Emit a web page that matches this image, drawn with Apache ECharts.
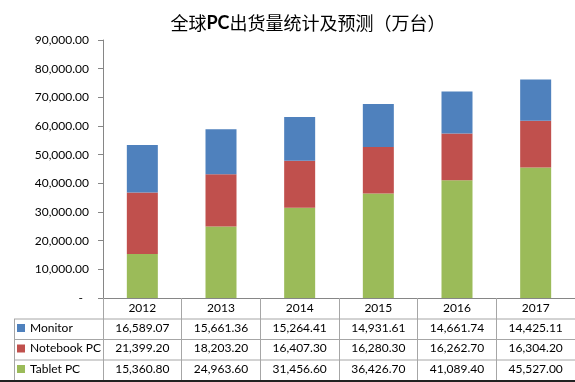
<!DOCTYPE html>
<html>
<head>
<meta charset="utf-8">
<script src="https://cdn.jsdelivr.net/npm/echarts@6/dist/echarts.min.js"></script>
<style>
html,body{margin:0;padding:0;background:#fff;}
#chart{width:575px;height:382px;}
</style>
</head>
<body>
<div id="chart"></div>
<script>
var years = ['2012', '2013', '2014', '2015', '2016', '2017'];
var monitor = [16589.07, 15661.36, 15264.41, 14931.61, 14661.74, 14425.11];
var notebook = [21399.20, 18203.20, 16407.30, 16280.30, 16262.70, 16304.20];
var tablet = [15360.80, 24963.60, 31456.60, 36426.70, 41089.40, 45527.00];
var seriesNames = ['Monitor', 'Notebook PC', 'Tablet PC'];
var yTicks = { min: 0, max: 90000, interval: 10000 };

var colors = { 'Monitor': '#4F81BD', 'Notebook PC': '#C0504D', 'Tablet PC': '#9BBB59' };
var FONT = 'Lato, "Liberation Sans", sans-serif';
function fmt(v) {
  if (v === 0) return '-  ';
  return Number(v).toLocaleString('en-US', { minimumFractionDigits: 2, maximumFractionDigits: 2 });
}

var gridLeft = 103, gridTop = 40, gridBottomY = 298, W = 575, H = 382;
var rowLines = [319, 339.5, 360];
var lineColor = '#a6a6a6';

function rowAxis(values, offset) {
  return {
    type: 'category', gridIndex: 0, position: 'bottom', offset: offset,
    data: values.map(fmt),
    axisLine: { show: false }, axisTick: { show: false },
    axisLabel: { interval: 0, margin: 3, color: '#000', fontFamily: FONT, fontSize: 12 }
  };
}

var legends = seriesNames.map(function (n, i) {
  return {
    data: [n], orient: 'horizontal', left: 14, top: rowLines[i] + 3,
    icon: 'rect', itemWidth: 8, itemHeight: 8, itemGap: 0, padding: [0, 0, 0, 3],
    selectedMode: false,
    textStyle: { color: '#000', fontFamily: FONT, fontSize: 12, padding: [2, 0, 0, 0] }
  };
});

var graphics = [];
rowLines.forEach(function (y) {
  graphics.push({ type: 'line', shape: { x1: 14, y1: y, x2: W, y2: y }, style: { stroke: lineColor, lineWidth: 1 }, silent: true });
});
graphics.push({ type: 'line', shape: { x1: 14.5, y1: rowLines[0], x2: 14.5, y2: 380 }, style: { stroke: lineColor, lineWidth: 1 }, silent: true });
graphics.push({ type: 'line', shape: { x1: 0, y1: 381, x2: W, y2: 381 }, style: { stroke: '#222', lineWidth: 2 }, silent: true });

var chart = echarts.init(document.getElementById('chart'), null, { renderer: 'canvas' });
chart.setOption({
  animation: false,
  backgroundColor: '#fff',
  title: {
    text: '全球{b|PC}出货量统计及预测（万台）',
    left: 303, textAlign: 'center', top: 9,
    textStyle: {
      fontFamily: '"Noto Sans CJK SC", sans-serif', fontSize: 18, fontWeight: 'normal', color: '#000',
      rich: { b: { fontFamily: 'Lato, "Liberation Sans", sans-serif', fontWeight: 'bold', fontSize: 18, color: '#000' } }
    }
  },
  legend: legends,
  grid: { left: gridLeft, right: 0, top: gridTop, bottom: H - gridBottomY, containLabel: false },
  xAxis: [
    {
      type: 'category', data: years, position: 'bottom',
      axisLine: { show: true, lineStyle: { color: '#868686', width: 1 } },
      axisTick: { show: true, length: H - gridBottomY - 2, lineStyle: { color: lineColor } },
      axisLabel: { interval: 0, margin: 4, color: '#000', fontFamily: FONT, fontSize: 12 }
    },
    rowAxis(monitor, 21),
    rowAxis(notebook, 41.5),
    rowAxis(tablet, 62)
  ],
  yAxis: {
    type: 'value', min: yTicks.min, max: yTicks.max, interval: yTicks.interval,
    axisLine: { show: true, lineStyle: { color: '#868686' } },
    axisTick: { show: true, length: 5, lineStyle: { color: '#868686' } },
    splitLine: { show: false },
    axisLabel: { margin: 14, color: '#000', fontFamily: FONT, fontSize: 12, formatter: fmt }
  },
  series: [
    { name: 'Tablet PC', type: 'bar', stack: 't', data: tablet, barWidth: 31, itemStyle: { color: colors['Tablet PC'] } },
    { name: 'Notebook PC', type: 'bar', stack: 't', data: notebook, barWidth: 31, itemStyle: { color: colors['Notebook PC'] } },
    { name: 'Monitor', type: 'bar', stack: 't', data: monitor, barWidth: 31, itemStyle: { color: colors['Monitor'] } }
  ],
  graphic: graphics
});
</script>
</body>
</html>
